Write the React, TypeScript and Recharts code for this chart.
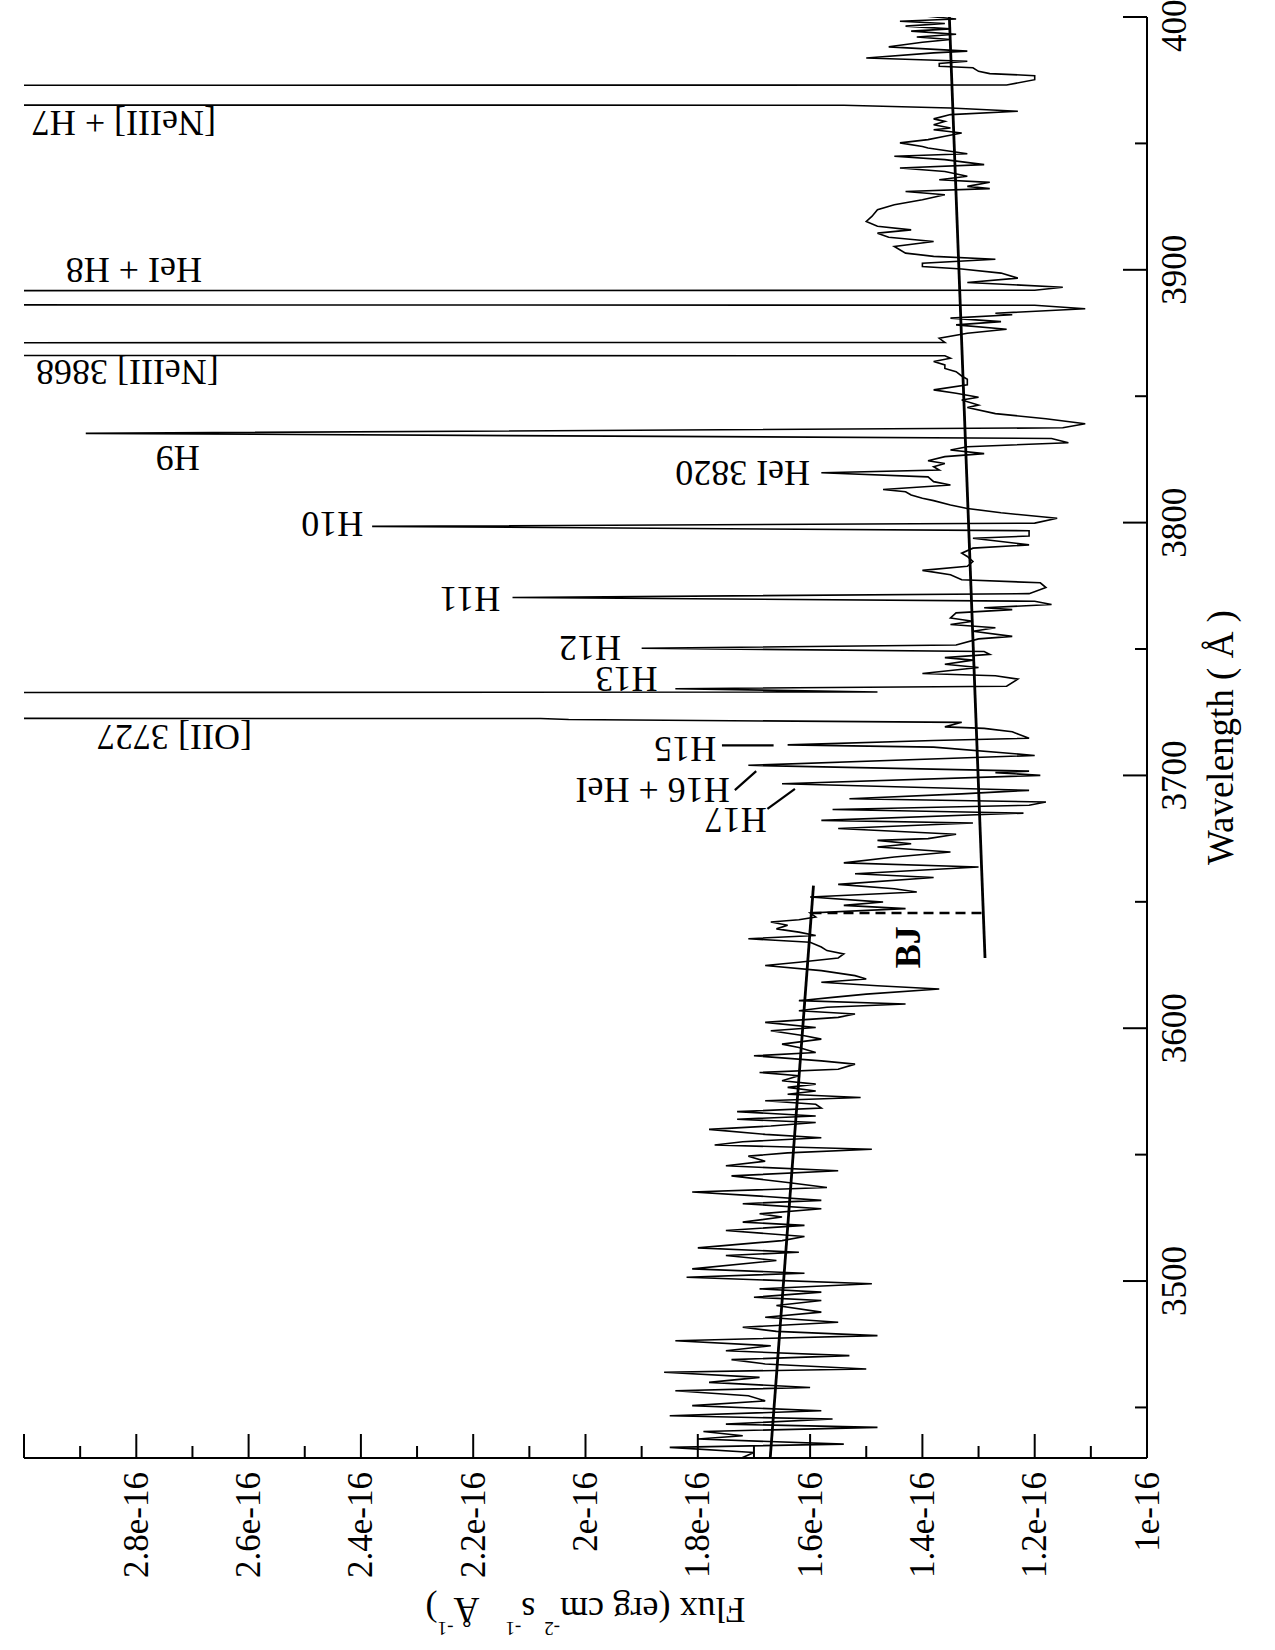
import { LineChart, Line, XAxis, YAxis, ReferenceLine, ReferenceDot } from "recharts";

const FONT = "'Liberation Serif', 'Times New Roman', serif";
const INK = "#000";

// [wavelength (Å), flux (1e-16 erg cm^-2 s^-1 Å^-1)]
const balmerSide: [number, number][] = [
  [3429.0, 1.69], [3430.2, 1.72], [3432.2, 1.7], [3434.2, 1.85], [3435.5, 1.54], [3437.5, 1.8],
  [3438.8, 1.72], [3440.5, 1.79], [3442.1, 1.48], [3443.4, 1.75], [3445.4, 1.56], [3446.7, 1.85],
  [3448.7, 1.58], [3450.7, 1.81], [3452.6, 1.68], [3454.6, 1.71], [3456.6, 1.84], [3457.9, 1.6],
  [3459.9, 1.78], [3461.9, 1.69], [3463.9, 1.86], [3465.2, 1.5], [3467.2, 1.68], [3468.9, 1.74],
  [3470.5, 1.53], [3472.4, 1.75], [3474.4, 1.67], [3476.4, 1.84], [3478.4, 1.48], [3480.1, 1.66],
  [3481.7, 1.72], [3483.7, 1.55], [3485.7, 1.68], [3487.7, 1.58], [3490.3, 1.66], [3492.3, 1.58],
  [3493.6, 1.7], [3495.6, 1.58], [3496.9, 1.69], [3498.9, 1.49], [3501.5, 1.82], [3503.1, 1.61],
  [3504.8, 1.81], [3508.1, 1.66], [3510.1, 1.75], [3511.4, 1.62], [3513.1, 1.8], [3516.0, 1.65],
  [3517.6, 1.61], [3520.0, 1.75], [3522.0, 1.61], [3523.3, 1.72], [3525.3, 1.65], [3526.6, 1.69],
  [3528.6, 1.58], [3530.6, 1.72], [3531.9, 1.58], [3533.9, 1.71], [3535.2, 1.81], [3537.0, 1.57],
  [3539.0, 1.64], [3541.6, 1.74], [3543.6, 1.55], [3545.6, 1.75], [3547.4, 1.68], [3549.4, 1.71],
  [3550.7, 1.64], [3552.1, 1.49], [3553.8, 1.77], [3555.1, 1.72], [3556.7, 1.58], [3558.0, 1.68],
  [3560.0, 1.78], [3561.3, 1.67], [3562.7, 1.59], [3564.0, 1.73], [3565.3, 1.59], [3567.0, 1.73],
  [3568.4, 1.58], [3569.9, 1.59], [3571.3, 1.68], [3572.6, 1.51], [3573.9, 1.64], [3575.2, 1.59],
  [3576.6, 1.64], [3577.9, 1.59], [3579.2, 1.65], [3581.2, 1.62], [3582.5, 1.69], [3583.8, 1.55],
  [3585.8, 1.52], [3587.1, 1.58], [3589.1, 1.7], [3590.4, 1.59], [3592.4, 1.62], [3593.7, 1.65],
  [3595.7, 1.58], [3597.0, 1.61], [3599.0, 1.67], [3600.3, 1.59], [3602.3, 1.68], [3604.3, 1.55],
  [3605.6, 1.52], [3606.9, 1.62], [3608.3, 1.57], [3609.6, 1.43], [3610.9, 1.62], [3612.2, 1.56],
  [3613.5, 1.5], [3615.5, 1.37], [3616.8, 1.48], [3618.2, 1.58], [3619.5, 1.5], [3620.8, 1.52],
  [3622.8, 1.58], [3624.8, 1.68], [3626.1, 1.62], [3627.8, 1.55], [3629.4, 1.54], [3630.7, 1.57],
  [3632.1, 1.58], [3634.0, 1.6], [3635.4, 1.71], [3636.7, 1.59], [3638.0, 1.62], [3639.3, 1.66],
  [3640.7, 1.64], [3642.0, 1.67], [3642.9, 1.62], [3644.0, 1.59], [3645.6, 1.6], [3647.3, 1.43],
  [3648.6, 1.54], [3649.9, 1.47], [3651.9, 1.6], [3653.9, 1.41], [3655.2, 1.45], [3656.9, 1.55],
  [3659.6, 1.38], [3661.1, 1.52],
];

const lineForest: [number, number][] = [
  [3663.8, 1.3], [3665.4, 1.54], [3667.7, 1.45], [3669.7, 1.35], [3671.7, 1.48], [3673.0, 1.42],
  [3674.3, 1.48], [3675.0, 1.39], [3676.7, 1.34], [3679.0, 1.55], [3681.2, 1.31], [3682.2, 1.58],
  [3685.1, 1.22], [3686.5, 1.56], [3688.2, 1.21], [3689.5, 1.18], [3690.8, 1.53], [3692.7, 1.33],
  [3694.1, 1.21], [3696.7, 1.65], [3700.0, 1.19], [3701.1, 1.27], [3701.7, 1.21], [3704.0, 1.71],
  [3707.9, 1.2], [3711.2, 1.38], [3712.1, 1.64], [3713.8, 1.38], [3714.7, 1.21], [3716.4, 1.23],
  [3717.3, 1.24], [3718.6, 1.29], [3719.2, 1.36], [3721.0, 1.33], [3722.1, 2.03], [3722.5, 2.08],
  [3723.0, 9.0], [3732.0, 9.0], [3733.0, 1.48], [3734.3, 1.84], [3735.3, 1.25], [3738.1, 1.23],
  [3739.4, 1.27], [3740.3, 1.4], [3742.7, 1.3], [3744.0, 1.36], [3745.6, 1.31], [3746.6, 1.36],
  [3747.9, 1.28], [3749.0, 1.29], [3750.3, 1.9], [3751.6, 1.34], [3754.0, 1.3], [3755.0, 1.24],
  [3757.0, 1.31], [3758.4, 1.27], [3759.7, 1.35], [3761.0, 1.31], [3762.3, 1.35], [3764.3, 1.34],
  [3765.6, 1.24], [3766.3, 1.29], [3767.6, 1.17], [3768.9, 1.2], [3770.4, 2.13], [3771.9, 1.21],
  [3774.3, 1.18], [3776.2, 1.19], [3777.4, 1.33], [3779.4, 1.35], [3781.1, 1.4], [3782.7, 1.32],
  [3784.6, 1.31], [3786.6, 1.32], [3787.9, 1.33], [3789.9, 1.31], [3791.2, 1.21], [3792.5, 1.26],
  [3793.8, 1.31], [3794.7, 1.21], [3796.8, 1.21], [3798.5, 2.38], [3799.8, 1.2],
];

const redSide: [number, number][] = [
  [3801.7, 1.16], [3803.9, 1.26], [3805.6, 1.32], [3807.0, 1.35], [3808.7, 1.38], [3809.6, 1.4],
  [3810.9, 1.42], [3812.2, 1.43], [3813.1, 1.47], [3814.9, 1.35], [3816.2, 1.38], [3818.1, 1.39],
  [3819.7, 1.58], [3820.8, 1.37], [3822.1, 1.38], [3823.4, 1.36], [3824.5, 1.39], [3826.1, 1.36],
  [3827.3, 1.29], [3828.7, 1.35], [3830.0, 1.32], [3831.6, 1.14], [3833.3, 1.17], [3835.3, 2.89],
  [3837.5, 1.15], [3839.1, 1.11], [3841.1, 1.18], [3843.1, 1.27], [3845.5, 1.32], [3846.5, 1.3],
  [3848.5, 1.33], [3849.6, 1.3], [3851.2, 1.34], [3852.5, 1.38], [3854.5, 1.32], [3856.7, 1.32],
  [3858.0, 1.33], [3859.7, 1.34], [3861.0, 1.36], [3862.4, 1.36], [3863.7, 1.38], [3865.0, 1.35],
  [3866.0, 1.36], [3866.6, 9.0], [3870.6, 9.0], [3871.3, 1.36], [3872.9, 1.37], [3874.9, 1.32],
  [3876.5, 1.25], [3878.2, 1.34], [3879.5, 1.26], [3880.9, 1.35], [3882.2, 1.24], [3882.8, 1.27],
  [3884.6, 1.11], [3886.0, 1.2], [3886.6, 9.0], [3891.4, 9.0], [3891.9, 1.2], [3893.1, 1.15],
  [3895.0, 1.32], [3896.7, 1.23], [3898.7, 1.26], [3900.3, 1.33], [3901.3, 1.4], [3902.6, 1.4],
  [3904.2, 1.27], [3905.3, 1.38], [3906.6, 1.43], [3909.2, 1.45], [3911.2, 1.38], [3912.9, 1.46],
  [3914.5, 1.48], [3915.8, 1.42], [3917.2, 1.48], [3919.1, 1.5], [3921.1, 1.49], [3923.8, 1.48],
  [3925.7, 1.45], [3927.7, 1.4], [3929.7, 1.36], [3931.0, 1.43], [3932.1, 1.28], [3933.0, 1.32],
  [3934.6, 1.28], [3935.6, 1.37], [3937.0, 1.32], [3938.9, 1.36], [3940.3, 1.44], [3941.6, 1.29],
  [3943.6, 1.36], [3944.9, 1.45], [3945.9, 1.32], [3948.2, 1.39], [3948.8, 1.4], [3950.2, 1.44],
  [3951.5, 1.39], [3952.8, 1.36], [3954.1, 1.33], [3955.4, 1.38], [3956.1, 1.35], [3957.4, 1.38],
  [3958.7, 1.36], [3959.7, 1.38], [3961.4, 1.35], [3962.7, 1.23], [3964.0, 1.35], [3965.1, 1.54],
  [3965.4, 9.0], [3972.6, 9.0], [3973.1, 1.25], [3975.2, 1.2], [3976.8, 1.2], [3977.6, 1.28],
  [3978.5, 1.3], [3979.9, 1.31], [3980.5, 1.37], [3981.6, 1.37], [3982.5, 1.32], [3983.8, 1.5],
  [3985.8, 1.38], [3986.5, 1.32], [3988.2, 1.46], [3990.0, 1.4], [3991.1, 1.35], [3992.1, 1.41],
  [3993.2, 1.34], [3994.4, 1.42], [3995.3, 1.35], [3996.4, 1.43], [3997.4, 1.36], [3998.3, 1.44],
  [3999.2, 1.34], [4000.5, 1.4],
];

// straight continuum fits either side of the Balmer jump
const balmerFit: [number, number][] = [[3430, 1.671], [3656.4, 1.594]];
const paschenFit: [number, number][] = [[3627.8, 1.2885], [4000, 1.352]];
const jumpMark: [number, number][] = [[3645.6, 1.5975], [3645.6, 1.2915]];

const lineLabels = [
  { text: "[NeIII] + H7", wl: 3958.2, f: 2.658 },
  { text: "HeI + H8", wl: 3900.0, f: 2.683 },
  { text: "[NeIII] 3868", wl: 3859.6, f: 2.653 },
  { text: "H9", wl: 3825.5, f: 2.687 },
  { text: "HeI 3820", wl: 3819.5, f: 1.6 },
  { text: "H10", wl: 3799.4, f: 2.396 },
  { text: "H11", wl: 3769.9, f: 2.152 },
  { text: "H12", wl: 3750.3, f: 1.937 },
  { text: "H13", wl: 3738.2, f: 1.872 },
  { text: "[OII] 3727", wl: 3715.3, f: 2.594 },
  { text: "H15", wl: 3710.6, f: 1.767 },
  { text: "H16 + HeI", wl: 3694.3, f: 1.743 },
  { text: "H17", wl: 3682.2, f: 1.677 },
];

const leaders: [number, number][][] = [
  [[3711.9, 1.757], [3711.9, 1.665]],
  [[3694.2, 1.734], [3701.7, 1.696]],
  [[3686.8, 1.676], [3694.7, 1.627]],
];

const wlDomain = [3430, 4000];
const fluxDomain = [1, 3];
const wlTicks = [3450, 3500, 3550, 3600, 3650, 3700, 3750, 3800, 3850, 3900, 3950, 4000];
const fluxTicks = [1, 1.1, 1.2, 1.3, 1.4, 1.5, 1.6, 1.7, 1.8, 1.9, 2, 2.1, 2.2, 2.3, 2.4, 2.5, 2.6, 2.7, 2.8, 2.9, 3];

const spectrum = [...balmerSide, ...lineForest, ...redSide].map(([wl, f]) => ({ wl, f }));

const isMajorWl = (v: number) => v % 100 === 0;
const isMajorFlux = (v: number) => Math.round(v * 10) % 2 === 0;
const fluxText = (v: number) => (Number.isInteger(v) ? `${v}e-16` : `${v.toFixed(1)}e-16`);

const BottomTick = ({ x, y, payload }: any) => {
  const major = isMajorWl(payload.value);
  return (
    <g>
      <line x1={x} y1={y} x2={x} y2={y - (major ? 24 : 12)} stroke={INK} strokeWidth={2} />
      {major && (
        <text x={x} y={y + 39} textAnchor="middle" fontSize={35} fontFamily={FONT} fill={INK}>
          {payload.value}
        </text>
      )}
    </g>
  );
};

const TopTick = ({ x, y, payload }: any) => (
  <line x1={x} y1={y} x2={x} y2={y + (isMajorWl(payload.value) ? 24 : 12)} stroke={INK} strokeWidth={2} />
);

const LeftTick = ({ x, y, payload }: any) => {
  const v = payload.value;
  const major = isMajorFlux(v);
  return (
    <g>
      <line x1={x} y1={y} x2={x + (major ? 24 : 12)} y2={y} stroke={INK} strokeWidth={2} />
      {major && v < 2.95 && (
        <text x={x - 14} y={y} textAnchor="end" dominantBaseline="central" fontSize={35} fontFamily={FONT} fill={INK}>
          {fluxText(v)}
        </text>
      )}
    </g>
  );
};

const RightTick = ({ x, y, payload }: any) => (
  <line x1={x} y1={y} x2={x - (isMajorFlux(payload.value) ? 24 : 12)} y2={y} stroke={INK} strokeWidth={2} />
);

const WavelengthTitle = ({ viewBox }: any) => (
  <text x={viewBox.x + viewBox.width / 2} y={viewBox.y + 86} textAnchor="middle" fontSize={37} fontFamily={FONT} fill={INK}>
    Wavelength ( Å )
  </text>
);

const FluxTitle = ({ viewBox }: any) => {
  const cx = 52;
  const cy = viewBox.y + viewBox.height / 2;
  return (
    <text x={cx} y={cy} transform={`rotate(-90 ${cx} ${cy})`} textAnchor="middle" fontSize={36} fontFamily={FONT} fill={INK}>
      Flux (erg cm
      <tspan dy={-24} fontSize={19}>-2</tspan>
      <tspan dy={24}> s</tspan>
      <tspan dy={-24} fontSize={19}>-1</tspan>
      <tspan dx={26} dy={24}>Å</tspan>
      <tspan dy={-24} fontSize={19}>-1</tspan>
      <tspan dy={24}>)</tspan>
    </text>
  );
};

const lineLabel = (text: string) => (p: any) => (
  <text
    x={p.cx}
    y={p.cy}
    transform={`rotate(-90 ${p.cx} ${p.cy})`}
    dominantBaseline="central"
    fontSize={36}
    fontFamily={FONT}
    fill={INK}
  >
    {text}
  </text>
);

const jumpLabel = (p: any) => (
  <text x={p.cx} y={p.cy} textAnchor="middle" fontSize={36} fontWeight="bold" fontFamily={FONT} fill={INK}>
    BJ
  </text>
);

const seg = (pts: [number, number][]) => pts.map(([x, y]) => ({ x, y }));

function SpectrumChart() {
  return (
    <LineChart width={1650} height={1275} data={spectrum} margin={{ top: 24, right: 17, bottom: 0, left: 0 }}>
      <XAxis
        dataKey="wl"
        type="number"
        domain={wlDomain}
        allowDataOverflow
        ticks={wlTicks}
        interval={0}
        height={128}
        tickSize={0}
        tickMargin={0}
        tickLine={false}
        tick={BottomTick}
        axisLine={{ stroke: INK, strokeWidth: 2 }}
        label={{ content: WavelengthTitle }}
      />
      <XAxis
        xAxisId="top"
        orientation="top"
        type="number"
        domain={wlDomain}
        allowDataOverflow
        ticks={wlTicks}
        interval={0}
        height={0}
        tickSize={0}
        tickMargin={0}
        tickLine={false}
        tick={TopTick}
        axisLine={{ stroke: INK, strokeWidth: 2 }}
      />
      <YAxis
        type="number"
        domain={fluxDomain}
        allowDataOverflow
        ticks={fluxTicks}
        interval={0}
        width={192}
        tickSize={0}
        tickMargin={0}
        tickLine={false}
        tick={LeftTick}
        axisLine={{ stroke: INK, strokeWidth: 2 }}
        label={{ content: FluxTitle }}
      />
      <YAxis
        yAxisId="right"
        orientation="right"
        type="number"
        domain={fluxDomain}
        allowDataOverflow
        ticks={fluxTicks}
        interval={0}
        width={0}
        tickSize={0}
        tickMargin={0}
        tickLine={false}
        tick={RightTick}
        axisLine={{ stroke: INK, strokeWidth: 2 }}
      />
      <Line dataKey="f" type="linear" stroke={INK} strokeWidth={1.6} dot={false} isAnimationActive={false} />
      <ReferenceLine segment={seg(balmerFit)} stroke={INK} strokeWidth={2.8} />
      <ReferenceLine segment={seg(paschenFit)} stroke={INK} strokeWidth={2.8} />
      <ReferenceLine segment={seg(jumpMark)} stroke={INK} strokeWidth={2.6} strokeDasharray="10 6" />
      {leaders.map((l, i) => (
        <ReferenceLine key={i} segment={seg(l)} stroke={INK} strokeWidth={2.2} />
      ))}
      {lineLabels.map((l) => (
        <ReferenceDot key={l.text} x={l.wl} y={l.f} r={0} shape={lineLabel(l.text)} />
      ))}
      <ReferenceDot x={3632} y={1.404} r={0} shape={jumpLabel} />
    </LineChart>
  );
}

export default function App() {
  return (
    <div style={{ position: "absolute", left: 0, top: 0, width: 1275, height: 1650, overflow: "hidden", background: "#fff" }}>
      <div
        style={{
          position: "absolute",
          left: 0,
          top: 0,
          width: 1650,
          height: 1275,
          transformOrigin: "0 0",
          transform: "translate(0px, 1650px) rotate(-90deg)",
        }}
      >
        <SpectrumChart />
      </div>
    </div>
  );
}
